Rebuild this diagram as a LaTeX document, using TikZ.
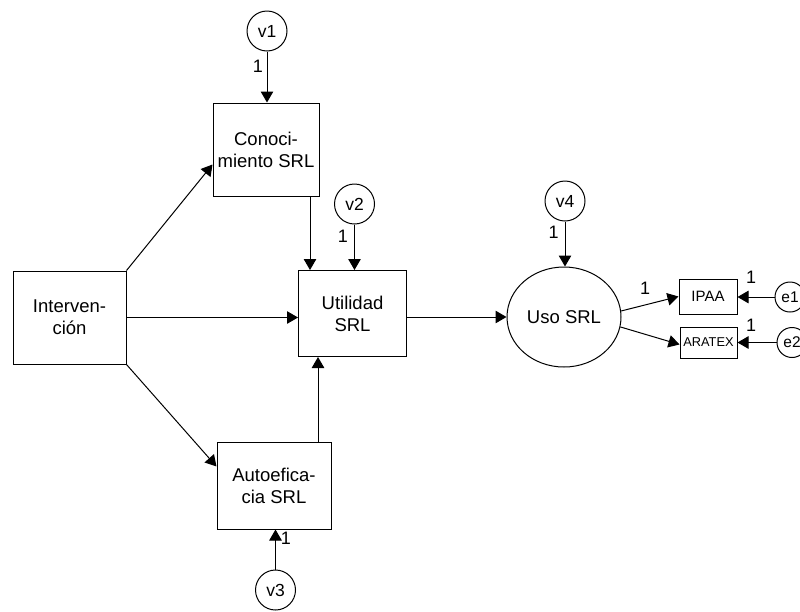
\documentclass[tikz,border=0pt]{standalone}
\usepackage{fontspec}
\setmainfont{Liberation Sans}
\usetikzlibrary{arrows.meta,shapes.geometric,calc}
\begin{document}
\begin{tikzpicture}[x=1pt,y=-1pt,
  box/.style={draw, line width=1pt, rectangle, align=center, inner sep=0pt,
    font=\fontsize{18.5}{22}\selectfont},
  var/.style={draw, line width=1pt, circle, minimum size=40pt, inner sep=0pt,
    font=\fontsize{17.5}{18}\selectfont},
  evar/.style={var, minimum size=30pt, font=\fontsize{15.5}{16}\selectfont},
  one/.style={inner sep=0pt, font=\fontsize{18}{18}\selectfont},
  arr/.style={-{Triangle[length=11pt,width=12.5pt]}, line width=1pt},
]
\clip (0,0) rectangle (800,611);
\fill[white] (0,0) rectangle (800,611);

% main boxes
\node[box, minimum width=113pt, minimum height=93pt] (inter) at (69.5,317.5) {Interven-\\ción};
\node[box, minimum width=106pt, minimum height=93pt] (cono) at (266,149.5) {Conoci-\\miento SRL};
\node[box, minimum width=108pt, minimum height=86pt] (util) at (352.5,313.5) {Utilidad\\SRL};
\node[box, minimum width=114pt, minimum height=87pt] (auto) at (274,485.5) {Autoefica-\\cia SRL};
\node[box, ellipse, minimum width=114pt, minimum height=100pt] (uso) at (564,317) {Uso SRL};
\node[box, minimum width=58pt, minimum height=35pt, font=\fontsize{15}{15}\selectfont] (ipaa) at (708,296.5) {IPAA};
\node[box, minimum width=57pt, minimum height=31pt, font=\fontsize{12.8}{13}\selectfont] (aratex) at (708.5,342.5) {ARATEX};

% residual circles
\node[var] (v1) at (267,31) {v1};
\node[var] (v2) at (354.5,204) {v2};
\node[var] (v3) at (275.5,590) {v3};
\node[var] (v4) at (565,201) {v4};
\node[evar] (e1) at (790,297) {e1};
\node[evar] (e2) at (792,342.5) {e2};

% connectors
\draw[arr] (v1.south) -- (v1.south |- cono.north);
\draw[arr] (v2.south) -- (v2.south |- util.north);
\draw[arr] (v4.south) -- (v4.south |- uso.north);
\draw[arr] (v3.north) -- (v3.north |- auto.south);
\draw[arr] ([xshift=44pt]cono.south) -- ([xshift=44pt]cono.south |- util.north);
\draw[arr] ([xshift=44pt]auto.north) -- ([xshift=44pt]auto.north |- util.south);
\draw[arr] (inter.east) -- (inter.east -| util.west);
\draw[arr] (inter.north east) -- ($(cono.west)+(0,15)$);
\draw[arr] (inter.south east) -- ($(auto.west)+(0,-19)$);
\draw[arr] (util.east |- uso.west) -- (uso.west);
\draw[arr] (uso.6) -- (ipaa.west);
\draw[arr] (uso.-10) -- ($(aratex.west)+(0,2)$);
\draw[arr] (e1.west) -- (e1.west -| ipaa.east);
\draw[arr] (e2.west) -- (e2.west -| aratex.east);

% loading labels
\node[one] (l1) at (258,66) {1};
\node[one] (l2) at (343,236) {1};
\node[one] (l3) at (286,538) {1};
\node[one] (l4) at (553.5,232) {1};
\node[one] (l5) at (645,288) {1};
\node[one] (l6) at (751,277) {1};
\node[one] (l7) at (751,325) {1};
\end{tikzpicture}
\end{document}
